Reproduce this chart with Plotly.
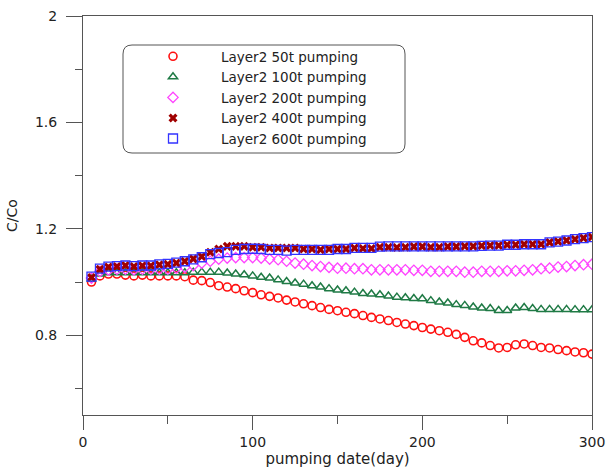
import plotly.graph_objects as go

days = list(range(5, 301, 5))

c50 = [1.000, 1.023, 1.030, 1.030, 1.026, 1.023, 1.026, 1.023, 1.023, 1.023,
       1.023, 1.020, 1.007, 1.005, 0.998, 0.986, 0.981, 0.975, 0.967, 0.960,
       0.952, 0.946, 0.940, 0.932, 0.925, 0.918, 0.911, 0.904, 0.897, 0.892,
       0.886, 0.881, 0.874, 0.867, 0.861, 0.855, 0.848, 0.842, 0.836, 0.829,
       0.823, 0.817, 0.811, 0.803, 0.792, 0.779, 0.771, 0.761, 0.752, 0.754,
       0.764, 0.767, 0.761, 0.754, 0.752, 0.746, 0.742, 0.737, 0.734, 0.729]

c100 = [1.010, 1.030, 1.035, 1.035, 1.035, 1.035, 1.035, 1.035, 1.035, 1.035,
        1.035, 1.035, 1.037, 1.037, 1.037, 1.037, 1.034, 1.030, 1.027, 1.023,
        1.018, 1.015, 1.008, 1.002, 0.996, 0.992, 0.986, 0.981, 0.975, 0.970,
        0.967, 0.962, 0.957, 0.955, 0.952, 0.947, 0.943, 0.941, 0.938, 0.937,
        0.930, 0.925, 0.921, 0.915, 0.912, 0.906, 0.902, 0.900, 0.893, 0.893,
        0.902, 0.904, 0.900, 0.897, 0.897, 0.897, 0.897, 0.896, 0.896, 0.896]

c200 = [1.015, 1.040, 1.045, 1.048, 1.048, 1.046, 1.048, 1.048, 1.048, 1.048,
        1.052, 1.055, 1.062, 1.071, 1.078, 1.086, 1.090, 1.092, 1.092, 1.092,
        1.090, 1.086, 1.084, 1.078, 1.071, 1.067, 1.062, 1.058, 1.055, 1.052,
        1.052, 1.050, 1.050, 1.046, 1.046, 1.046, 1.046, 1.046, 1.044, 1.044,
        1.040, 1.040, 1.040, 1.040, 1.037, 1.037, 1.040, 1.040, 1.040, 1.042,
        1.042, 1.044, 1.046, 1.050, 1.052, 1.056, 1.058, 1.062, 1.065, 1.067]

c400 = [1.017, 1.048, 1.056, 1.058, 1.062, 1.058, 1.061, 1.061, 1.065, 1.067,
        1.071, 1.078, 1.087, 1.096, 1.112, 1.124, 1.134, 1.134, 1.134, 1.131,
        1.131, 1.128, 1.128, 1.128, 1.128, 1.124, 1.124, 1.121, 1.124, 1.124,
        1.124, 1.128, 1.126, 1.126, 1.131, 1.131, 1.130, 1.131, 1.133, 1.133,
        1.131, 1.131, 1.133, 1.133, 1.134, 1.134, 1.136, 1.137, 1.137, 1.140,
        1.140, 1.142, 1.142, 1.142, 1.149, 1.152, 1.156, 1.161, 1.165, 1.169]

c600 = [1.020, 1.050, 1.058, 1.060, 1.062, 1.060, 1.062, 1.062, 1.066, 1.068,
        1.073, 1.078, 1.085, 1.093, 1.105, 1.109, 1.112, 1.121, 1.124, 1.125,
        1.124, 1.121, 1.121, 1.118, 1.121, 1.121, 1.121, 1.121, 1.121, 1.124,
        1.124, 1.128, 1.128, 1.128, 1.133, 1.134, 1.134, 1.134, 1.134, 1.134,
        1.134, 1.134, 1.134, 1.134, 1.134, 1.134, 1.136, 1.137, 1.137, 1.140,
        1.140, 1.142, 1.142, 1.142, 1.149, 1.152, 1.156, 1.161, 1.165, 1.169]

names = ["Layer2 50t pumping", "Layer2 100t pumping", "Layer2 200t pumping",
         "Layer2 400t pumping", "Layer2 600t pumping"]
series = [c50, c100, c200, c400, c600]
styles = [
    dict(symbol="circle-open", color="#ff1010", size=8, line=dict(width=1.6, color="#ff1010")),
    dict(symbol="triangle-up-open", color="#1f7a45", size=8, line=dict(width=1.5, color="#1f7a45")),
    dict(symbol="diamond-open", color="#ff44ff", size=8, line=dict(width=1.3, color="#ff44ff")),
    dict(symbol="x", color="#a00000", size=8, line=dict(width=0)),
    dict(symbol="square-open", color="#3333ff", size=9, line=dict(width=1.3, color="#3333ff")),
]

FONT = "DejaVu Sans, Arial, sans-serif"
W, H = 607, 470
L, R, T, B = 83, 15, 16, 55

fig = go.Figure()
for i, (nm, ys, st) in enumerate(zip(names, series, styles)):
    fig.add_trace(go.Scatter(x=days, y=ys, mode="markers", name=nm,
                             marker=st, legendgroup=str(i)))

pw, ph = W - L - R, H - T - B
def px2x(p):
    return (p - L) / pw
def px2y(p):
    return (H - B - p) / ph

# rounded legend frame
x0, x1, y0, y1, r = 123, 405, 45, 153, 9
rx, ry = r / pw, r / ph
X0, X1, Y0, Y1 = px2x(x0), px2x(x1), px2y(y1), px2y(y0)
path = (f"M {X0+rx},{Y1} L {X1-rx},{Y1} Q {X1},{Y1} {X1},{Y1-ry} "
        f"L {X1},{Y0+ry} Q {X1},{Y0} {X1-rx},{Y0} L {X0+rx},{Y0} "
        f"Q {X0},{Y0} {X0},{Y0+ry} L {X0},{Y1-ry} Q {X0},{Y1} {X0+rx},{Y1} Z")
fig.add_shape(type="path", path=path, xref="paper", yref="paper",
              line=dict(color="#555555", width=1), fillcolor="rgba(0,0,0,0)", layer="above")

fig.update_layout(
    width=W, height=H,
    margin=dict(l=L, r=R, t=T, b=B, autoexpand=False),
    paper_bgcolor="white", plot_bgcolor="white",
    font=dict(family=FONT, size=14, color="#222222"),
    showlegend=True,
    legend=dict(x=px2x(125), y=px2y(41), xanchor="left", yanchor="top",
                bgcolor="rgba(0,0,0,0)", borderwidth=0,
                font=dict(family=FONT, size=13.5, color="#222222"),
                itemwidth=86, tracegroupgap=0),
    xaxis=dict(range=[0, 300], tickvals=[0, 100, 200, 300], ticks="outside",
               ticklen=14, tickwidth=1, tickcolor="#555555",
               minor=dict(tickvals=[50, 150, 250], ticks="outside", ticklen=8, tickcolor="#555555"),
               showline=True, mirror=True, linecolor="#555555", linewidth=1,
               showgrid=False, zeroline=False,
               tickfont=dict(size=14),
               title=dict(text="pumping date(day)", font=dict(size=15), standoff=2)),
    yaxis=dict(range=[0.5, 2.0], tickvals=[0.8, 1.2, 1.6, 2.0], ticktext=["0.8", "1.2", "1.6", "2"],
               ticks="outside", ticklen=16, tickwidth=1, tickcolor="#555555",
               minor=dict(tickvals=[0.6, 1.0, 1.4, 1.8], ticks="outside", ticklen=7, tickcolor="#555555"),
               showline=True, mirror=True, linecolor="#555555", linewidth=1,
               showgrid=False, zeroline=False,
               tickfont=dict(size=14), ticklabelstandoff=6,
               title=dict(text="C/Co", font=dict(size=14), standoff=14)),
)

fig.write_html("out.html", config={"displayModeBar": False},
               post_script="document.body.style.margin='0';document.body.style.overflow='hidden';")
